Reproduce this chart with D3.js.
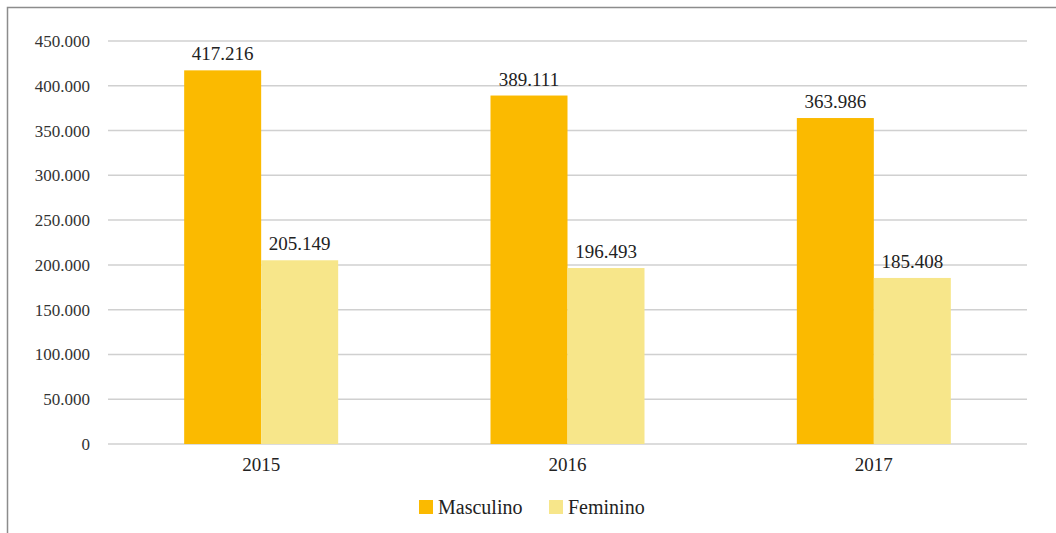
<!DOCTYPE html>
<html><head><meta charset="utf-8">
<script src="https://cdn.jsdelivr.net/npm/d3@7"></script>
<style>
body{margin:0;background:#fff;}
svg{display:block;}
</style></head>
<body><svg id="c" width="1056" height="533" font-family="'Liberation Serif', 'Times New Roman', serif"></svg>
<script>
const categories = ["2015","2016","2017"];
const seriesNames = ["Masculino","Feminino"];
const masculino = [417216, 389111, 363986];
const feminino = [205149, 196493, 185408];
const yTicks = [0,50000,100000,150000,200000,250000,300000,350000,400000,450000];
const colors = ["#FBBA00","#F7E68A"];

const svg = d3.select("#c");
const fmt = v => v === 0 ? "0" : d3.format(",")(v).replace(/,/g,".");
const FF = "'Liberation Serif', 'Times New Roman', serif";

// frame
svg.append("path").attr("d","M7.5,533 L7.5,7.5 L1056,7.5")
  .attr("fill","none").attr("stroke","#8c8c8c").attr("stroke-width",1.5);

const x0 = d3.scaleBand().domain(categories).range([108,1027]).paddingInner(0).paddingOuter(0);
const y = d3.scaleLinear().domain([0,450000]).range([444,41]);

// grid
svg.append("g").selectAll("line").data(yTicks).join("line")
  .attr("x1",108).attr("x2",1027)
  .attr("y1",d=>y(d)).attr("y2",d=>y(d))
  .attr("stroke","#d0d0d0").attr("stroke-width",1.5);

// y labels
svg.append("g").selectAll("text").data(yTicks).join("text")
  .attr("font-family",FF).attr("fill","#333")
  .attr("x",90).attr("y",d=>y(d)).attr("dy","0.35em")
  .attr("text-anchor","end").attr("font-size",17).text(fmt);

const barW = 77;
const x1 = d3.scaleBand().domain(seriesNames).range([0, barW*2]);
const data = categories.map((c,i)=>({c, vals:[masculino[i], feminino[i]]}));

const g = svg.append("g");
data.forEach(d=>{
  const cx = x0(d.c) + x0.bandwidth()/2 - barW;
  d.vals.forEach((v,j)=>{
    const bx = cx + x1(seriesNames[j]);
    g.append("rect").attr("x",bx).attr("y",y(v)).attr("width",barW)
      .attr("height",y(0)-y(v)).attr("fill",colors[j]);
    g.append("text").attr("font-family",FF).attr("fill","#222")
      .attr("x",bx+barW/2).attr("y",y(v)-10)
      .attr("text-anchor","middle").attr("font-size",19).text(fmt(v));
  });
});

// x labels
svg.append("g").selectAll("text").data(categories).join("text")
  .attr("font-family",FF).attr("fill","#222")
  .attr("x",d=>x0(d)+x0.bandwidth()/2).attr("y",471)
  .attr("text-anchor","middle").attr("font-size",19).text(d=>d);

// legend
const leg = svg.append("g");
const legX = [419, 549];
seriesNames.forEach((n,j)=>{
  leg.append("rect").attr("x",legX[j]).attr("y",500).attr("width",14).attr("height",14).attr("fill",colors[j]);
  leg.append("text").attr("font-family",FF).attr("fill","#222")
    .attr("x",legX[j]+19).attr("y",514).attr("font-size",20).text(n);
});
</script></body></html>
